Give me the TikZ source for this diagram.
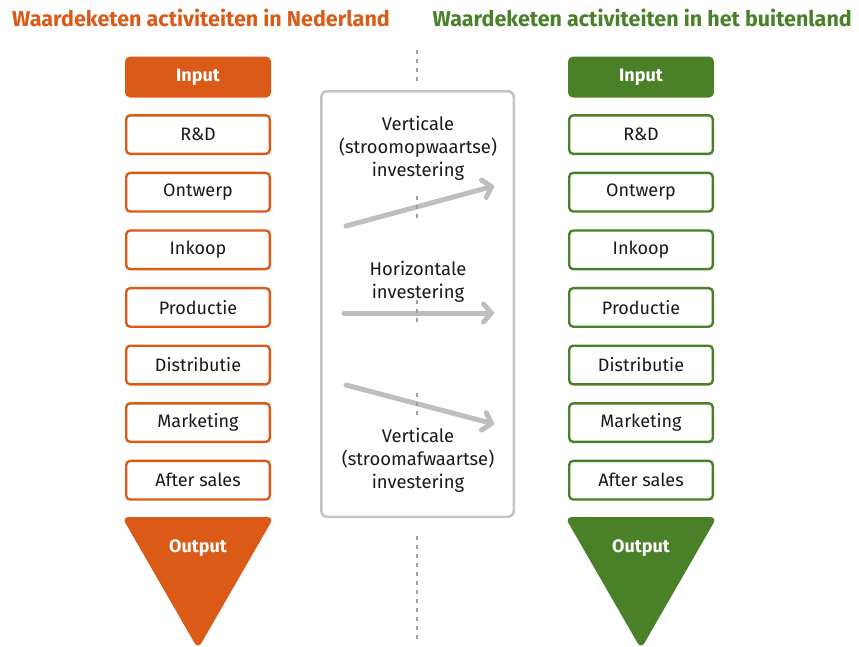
\documentclass[tikz,border=0pt]{standalone}
\usepackage{fontspec}
\setmainfont{Fira Sans}
\usetikzlibrary{arrows.meta}
\definecolor{nlorange}{RGB}{219,90,23}
\definecolor{bugreen}{RGB}{74,129,40}
\definecolor{kadergrey}{RGB}{195,195,195}
\definecolor{pijlgrey}{RGB}{190,190,190}
\definecolor{streepgrey}{RGB}{160,160,160}
\definecolor{tekst}{RGB}{25,25,25}

\begin{document}
\begin{tikzpicture}[x=1pt,y=-1pt,node distance=57.6pt,
  stap/.style={draw, rectangle, rounded corners=4pt, line width=2.4pt, minimum width=143.6pt, minimum height=38.6pt, fill=white, text=tekst, font=\fontsize{18}{20}\selectfont},
  nl/.style={stap, draw=nlorange},
  bu/.style={stap, draw=bugreen},
  inp/.style={stap, text=white, font=\fontsize{18}{20}\selectfont\bfseries},
  titel/.style={font=\fontsize{21.5}{24}\selectfont\bfseries, inner sep=0pt},
  uitleg/.style={align=center, text=tekst, font=\fontsize{18.4}{22.8}\selectfont},
  pijl/.style={draw=pijlgrey, line width=5pt, line cap=round, -{Straight Barb[length=8pt,width=18pt,line cap=round,line join=round]}},
  streep/.style={draw=streepgrey, line width=1.6pt, dash pattern=on 4pt off 5pt}]

\useasboundingbox (0,0) rectangle (859,646);

% titels
\node (titelNL) [titel, text=nlorange, anchor=west] at (12,18) {Waardeketen activiteiten in Nederland};
\node (titelBU) [titel, text=bugreen, anchor=east] at (852,18) {Waardeketen activiteiten in het buitenland};

% Nederland
\node (inputNL) [inp, draw=nlorange, fill=nlorange] at (198,77) {Input};
\node (rdNL) [nl, below of=inputNL] {R\&D};
\node (ontwerpNL) [nl, below of=rdNL] {Ontwerp};
\node (inkoopNL) [nl, below of=ontwerpNL] {Inkoop};
\node (productieNL) [nl, below of=inkoopNL] {Productie};
\node (distributieNL) [nl, below of=productieNL] {Distributie};
\node (marketingNL) [nl, below of=distributieNL] {Marketing};
\node (afterNL) [nl, below of=marketingNL] {After sales};
\fill[nlorange, rounded corners=7pt] (122,517) -- (274,517) -- (198,649) -- cycle;
\node (outputNL) [text=white, font=\fontsize{18}{20}\selectfont\bfseries] at (198,548) {Output};

% buitenland
\node (inputBU) [inp, draw=bugreen, fill=bugreen] at (641,77) {Input};
\node (rdBU) [bu, below of=inputBU] {R\&D};
\node (ontwerpBU) [bu, below of=rdBU] {Ontwerp};
\node (inkoopBU) [bu, below of=ontwerpBU] {Inkoop};
\node (productieBU) [bu, below of=inkoopBU] {Productie};
\node (distributieBU) [bu, below of=productieBU] {Distributie};
\node (marketingBU) [bu, below of=distributieBU] {Marketing};
\node (afterBU) [bu, below of=marketingBU] {After sales};
\fill[bugreen, rounded corners=7pt] (565,517) -- (717,517) -- (641,649) -- cycle;
\node (outputBU) [text=white, font=\fontsize{18}{20}\selectfont\bfseries] at (641,548) {Output};

% investeringen
\node (kader) [draw=kadergrey, line width=2.5pt, rounded corners=6pt, minimum width=192.5pt, minimum height=425.5pt] at (417.5,304) {};
\draw[streep] (417,50) -- (417,84);
\draw[streep] (417,536) -- (417,642);

\node (vertOp) [uitleg] at (418,148) {Verticale\\(stroomopwaartse)\\investering};
\node (horiz) [uitleg] at (418,282) {Horizontale\\investering};
\node (vertAf) [uitleg] at (418,460) {Verticale\\(stroomafwaartse)\\investering};

\coordinate (opStart) at (346,226);
\coordinate (opEind) at (494,186);
\coordinate (horStart) at (344,313);
\coordinate (horEind) at (494,313);
\coordinate (afStart) at (346,385);
\coordinate (afEind) at (494,424);
\draw[pijl] (opStart) -- (opEind);
\draw[pijl] (horStart) -- (horEind);
\draw[pijl] (afStart) -- (afEind);

\draw[streep] (417,196) -- (417,218);
\draw[streep] (417,300) -- (417,326);
\draw[streep] (417,393) -- (417,415);

\end{tikzpicture}
\end{document}
